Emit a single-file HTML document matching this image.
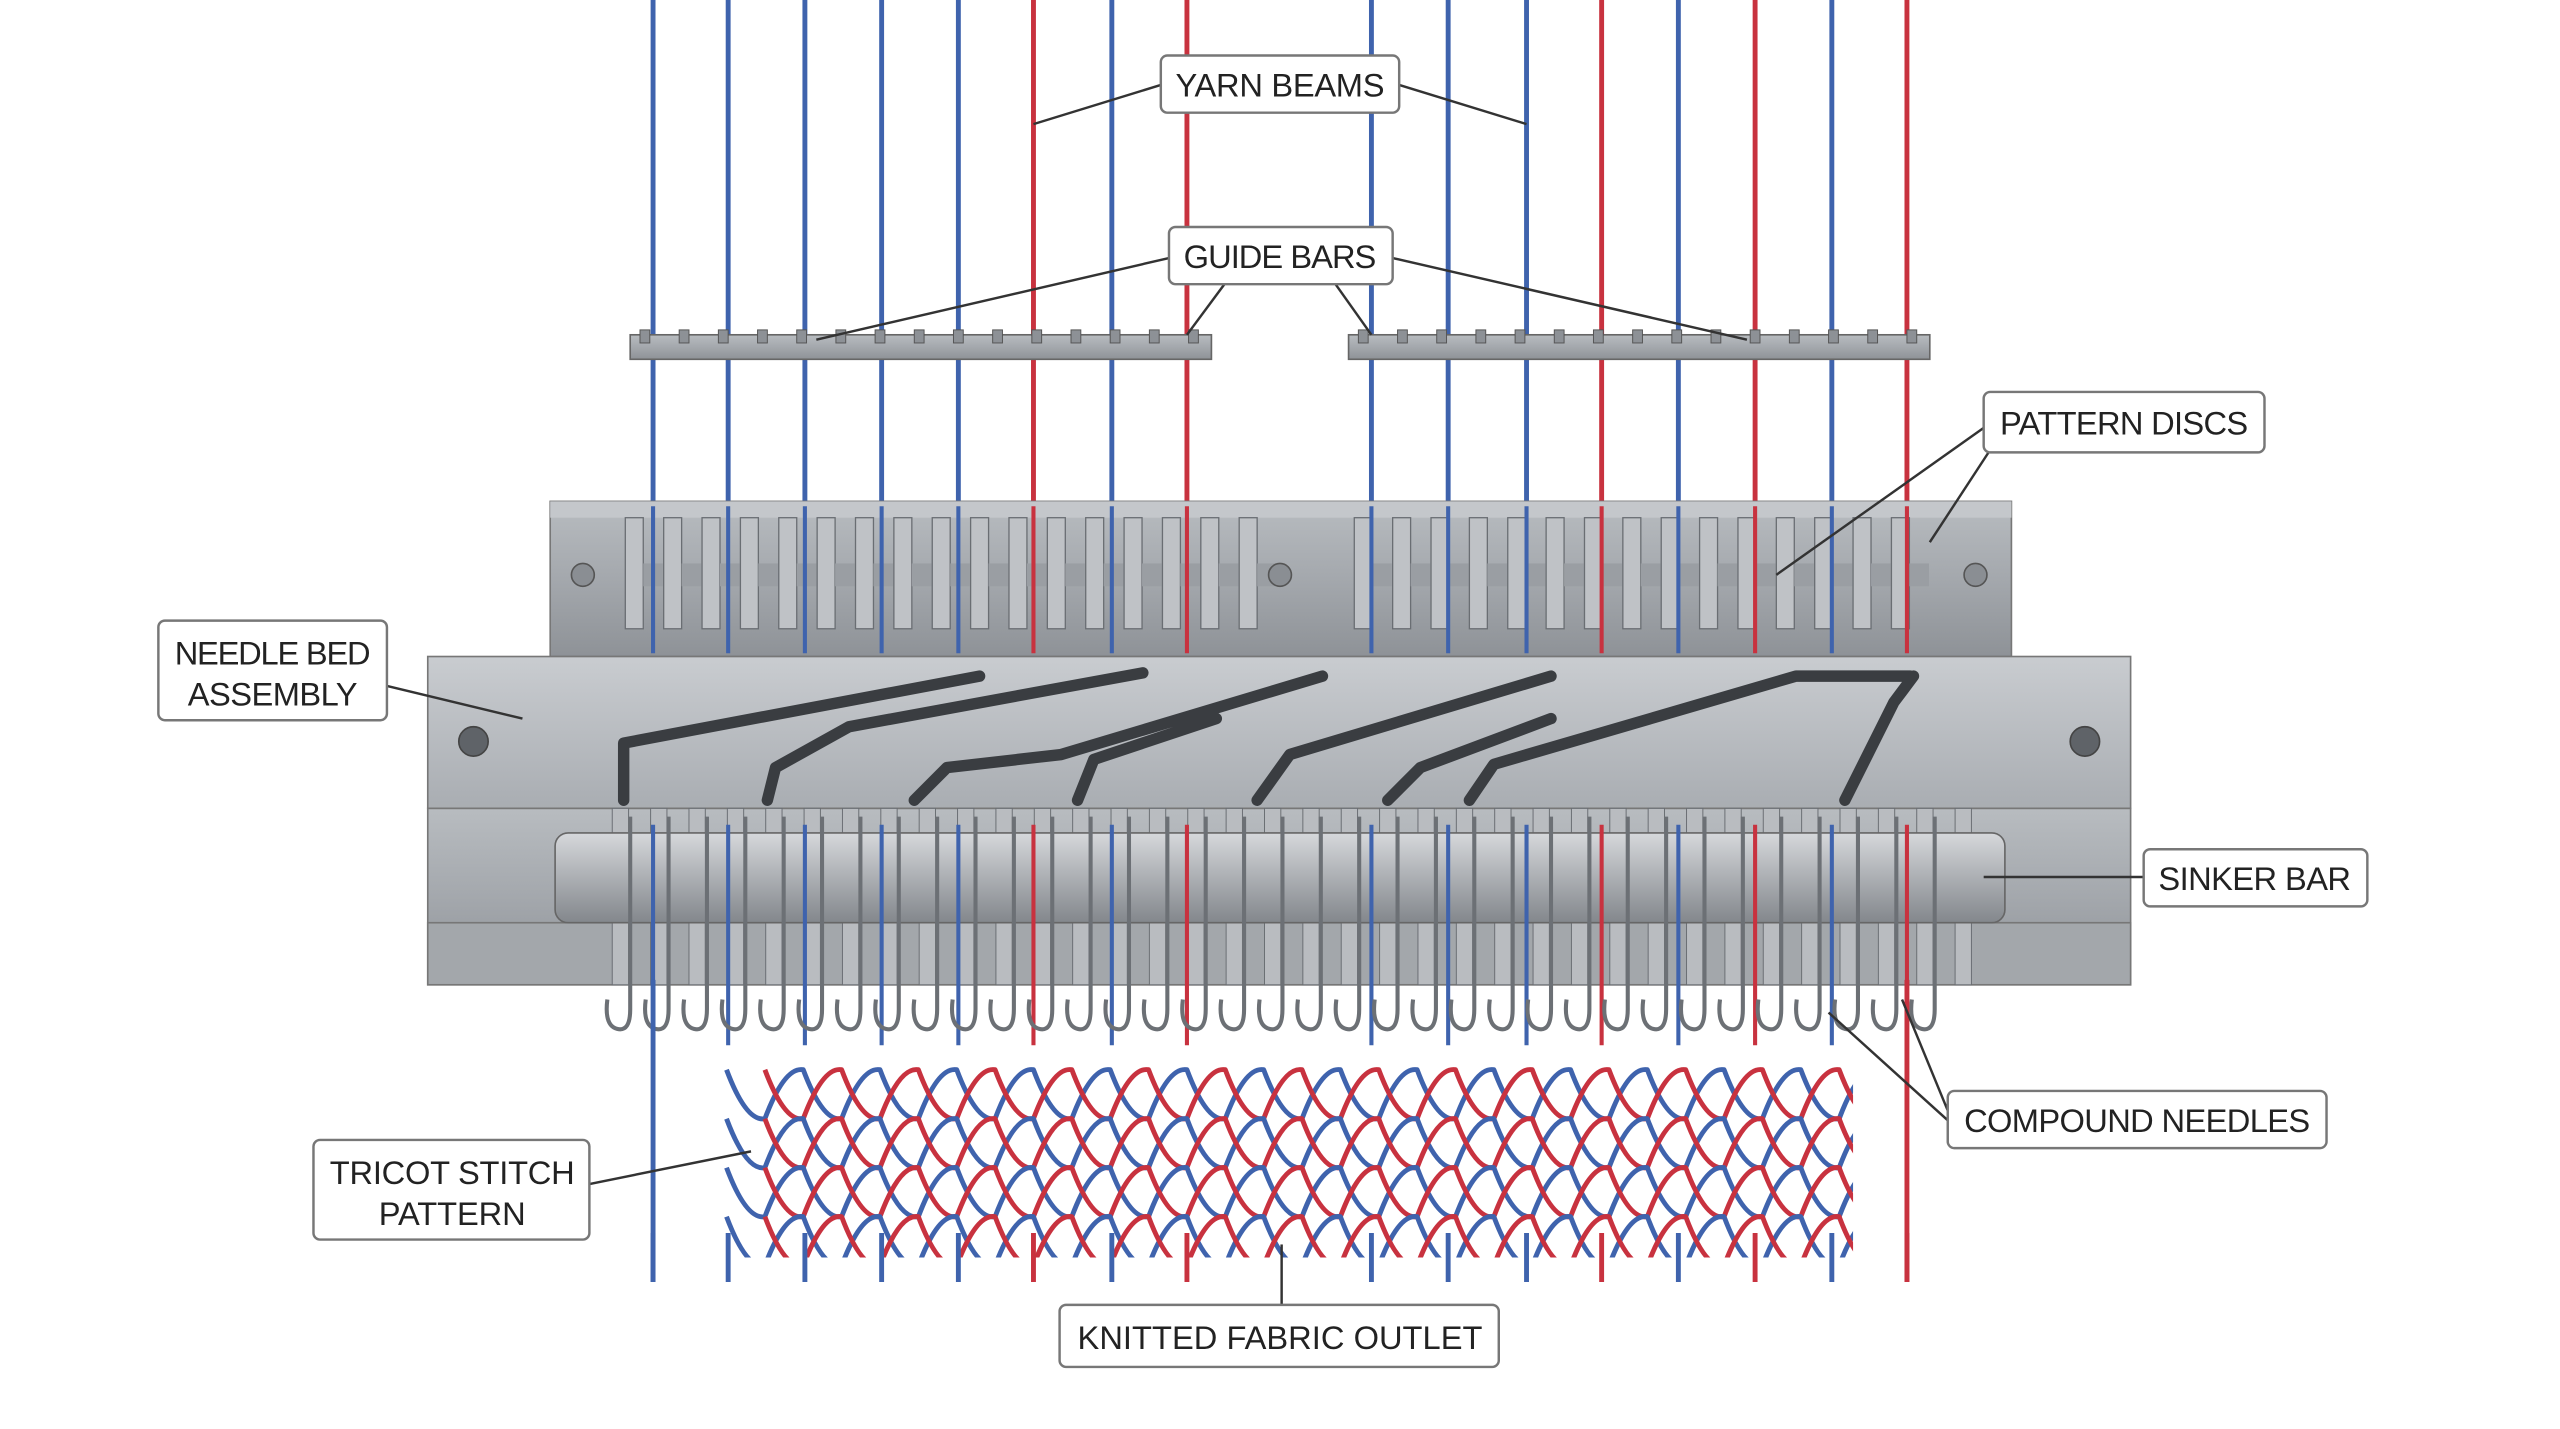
<!DOCTYPE html>
<html><head><meta charset="utf-8">
<style>
html,body{margin:0;padding:0;background:#fff;}
svg{display:block;}
text{font-family:"Liberation Sans",sans-serif;font-size:20px;fill:#222;}
</style></head>
<body>
<svg id="s" width="2560" height="1429" viewBox="0 0 1568 875" preserveAspectRatio="none" xmlns="http://www.w3.org/2000/svg">
<defs>
<linearGradient id="met" x1="0" y1="0" x2="0" y2="1">
<stop offset="0" stop-color="#b8bcc0"/><stop offset="0.5" stop-color="#a4a8ad"/><stop offset="1" stop-color="#8e9297"/></linearGradient>
<linearGradient id="met2" x1="0" y1="0" x2="0" y2="1">
<stop offset="0" stop-color="#c9ccd0"/><stop offset="1" stop-color="#a9adb2"/></linearGradient>
<linearGradient id="rod" x1="0" y1="0" x2="0" y2="1">
<stop offset="0" stop-color="#d6d8db"/><stop offset="0.4" stop-color="#b4b7bb"/><stop offset="1" stop-color="#83878c"/></linearGradient>
<clipPath id="mc"><rect x="440" y="630" width="695" height="140"/></clipPath>
</defs>
<rect width="1568" height="875" fill="#fff"/>
<g id="yarnTop"></g>
<rect x="386" y="205" width="356" height="15" fill="url(#met)" stroke="#666" stroke-width="1"/>
<rect x="826" y="205" width="356" height="15" fill="url(#met)" stroke="#666" stroke-width="1"/>
<g id="teeth"></g>
<rect x="337" y="307" width="895" height="95" fill="url(#met)" stroke="#777"/>
<rect x="337" y="307" width="895" height="10" fill="#c4c7cb"/>
<g id="discs"></g>
<g id="yarnMid"></g>
<circle cx="357" cy="352" r="7" fill="#8a8e93" stroke="#555"/>
<circle cx="784" cy="352" r="7" fill="#8a8e93" stroke="#555"/>
<circle cx="1210" cy="352" r="7" fill="#8a8e93" stroke="#555"/>
<rect x="262" y="402" width="1043" height="93" fill="url(#met2)" stroke="#777"/>
<rect x="262" y="495" width="1043" height="108" fill="url(#met)" stroke="#777"/>
<rect x="262" y="565" width="1043" height="38" fill="#a3a7ab" stroke="#777"/>
<circle cx="290" cy="454" r="9" fill="#5f6368" stroke="#444"/>
<circle cx="1277" cy="454" r="9" fill="#5f6368" stroke="#444"/>
<g fill="none" stroke="#3a3d41" stroke-width="7" stroke-linejoin="round" stroke-linecap="round">
<path d="M382 490 L382 455 L600 414 M470 490 L475 470 L520 445 L700 412"/>
<path d="M560 490 L580 470 L650 462 L810 414 M660 490 L670 465 L745 440"/>
<path d="M770 490 L790 462 L950 414 M850 490 L870 470 L950 440"/>
<path d="M900 490 L915 468 L1100 414 L1170 414 M1130 490 L1160 430 L1172 414"/>
</g>
<g id="needles"></g>
<rect x="340" y="510" width="888" height="55" rx="8" fill="url(#rod)" stroke="#666"/>
<g id="yarnLow"></g>
<g id="hooks"></g>
<g id="mesh" clip-path="url(#mc)"></g>
<g id="yarnBot"></g>
<g stroke="#333" stroke-width="1.5" fill="none">
<line x1="711" y1="52" x2="633" y2="76"/><line x1="857" y1="52" x2="935" y2="76"/>
<line x1="716" y1="158" x2="500" y2="208"/><line x1="750" y1="174" x2="727" y2="205"/>
<line x1="853" y1="158" x2="1070" y2="208"/><line x1="818" y1="174" x2="840" y2="205"/>
<line x1="1215" y1="262" x2="1088" y2="352"/><line x1="1218" y1="277" x2="1182" y2="332"/>
<line x1="237" y1="420" x2="320" y2="440"/>
<line x1="1313" y1="537" x2="1215" y2="537"/>
<line x1="1193" y1="686" x2="1120" y2="620"/><line x1="1193" y1="680" x2="1165" y2="612"/>
<line x1="361" y1="725" x2="460" y2="705"/>
<line x1="785" y1="799" x2="785" y2="762"/>
</g>
<g fill="#fff" stroke="#777" stroke-width="1.5">
<rect x="711" y="34" width="146" height="35" rx="4"/>
<rect x="716" y="139" width="137" height="35" rx="4"/>
<rect x="1215" y="240" width="172" height="37" rx="4"/>
<rect x="97" y="380" width="140" height="61" rx="4"/>
<rect x="1313" y="520" width="137" height="35" rx="4"/>
<rect x="1193" y="668" width="232" height="35" rx="4"/>
<rect x="192" y="698" width="169" height="61" rx="4"/>
<rect x="649" y="799" width="269" height="38" rx="4"/>
</g>
<g text-anchor="middle">
<text x="784" y="59" textLength="128">YARN BEAMS</text>
<text x="784" y="164" textLength="118">GUIDE BARS</text>
<text x="1301" y="266" textLength="152">PATTERN DISCS</text>
<text x="167" y="407" textLength="120">NEEDLE BED</text>
<text x="167" y="432" textLength="104">ASSEMBLY</text>
<text x="1381" y="545" textLength="118">SINKER BAR</text>
<text x="1309" y="693" textLength="212">COMPOUND NEEDLES</text>
<text x="277" y="725" textLength="150">TRICOT STITCH</text>
<text x="277" y="750" textLength="90">PATTERN</text>
<text x="784" y="826" textLength="248">KNITTED FABRIC OUTLET</text>
</g>
</svg>
<script>
const NS="http://www.w3.org/2000/svg";
function el(p,t,a){const e=document.createElementNS(NS,t);for(const k in a)e.setAttribute(k,a[k]);document.getElementById(p).appendChild(e);return e;}
const B="#3f63ad",R="#c8323f";
const yarns=[[400,B],[446,B],[493,B],[540,B],[587,B],[633,R],[681,B],[727,R],[840,B],[887,B],[935,B],[981,R],[1028,B],[1075,R],[1122,B],[1168,R]];
yarns.forEach(([x,c])=>{el("yarnTop","line",{x1:x,y1:0,x2:x,y2:310,stroke:c,"stroke-width":3});
 el("yarnMid","line",{x1:x,y1:310,x2:x,y2:400,stroke:c,"stroke-width":2.5});
 el("yarnLow","line",{x1:x,y1:505,x2:x,y2:640,stroke:c,"stroke-width":2.5});});
for(let x=392;x<742;x+=24){el("teeth","rect",{x:x,y:202,width:6,height:8,fill:"#8d9196",stroke:"#555","stroke-width":0.6});}
for(let x=832;x<1182;x+=24){el("teeth","rect",{x:x,y:202,width:6,height:8,fill:"#8d9196",stroke:"#555","stroke-width":0.6});}
for(let x=383;x<1180;x+=23.5){ if(Math.abs(x-784)<25) continue;
 el("discs","rect",{x:x,y:317,width:11,height:68,fill:"#bfc2c6",stroke:"#6a6e73","stroke-width":0.8});
 el("discs","rect",{x:x+11,y:345,width:12,height:14,fill:"#9a9ea3"});}
for(let x=375;x<1200;x+=23.5){el("needles","rect",{x:x,y:495,width:10,height:108,fill:"#b9bcc0",stroke:"#6a6e73","stroke-width":0.6});}
for(let x=378;x<1200;x+=23.5){
 el("hooks","path",{d:`M${x+8} 500 L${x+8} 618 Q${x+8} 632 ${x} 630 Q${x-8} 628 ${x-6} 612`,fill:"none",stroke:"#6c7075","stroke-width":2.5});
}
for(let r=0;r<4;r++){
 const y0=655+r*30;
 [[B,0],[R,23.5]].forEach(([c,off])=>{
  let d="";
  for(let k=0;k<=15;k++){const x=445+off+k*47; if(x>1135)break; const xm=x+23.5;
   d+=(d?" ":"M"+x+" "+y0+" ")+`Q${x+12} ${y0+32} ${xm} ${y0+30} Q${xm+12} ${y0-2} ${x+47} ${y0}`;}
  el("mesh","path",{d:d,fill:"none",stroke:c,"stroke-width":3,"stroke-linejoin":"round"});
 });
}
yarns.forEach(([x,c])=>{el("yarnBot","line",{x1:x,y1:755,x2:x,y2:785,stroke:c,"stroke-width":3});});
[[400,B],[1168,R]].forEach(([x,c])=>el("yarnBot","line",{x1:x,y1:600,x2:x,y2:785,stroke:c,"stroke-width":3}));
</script>
</body></html>
